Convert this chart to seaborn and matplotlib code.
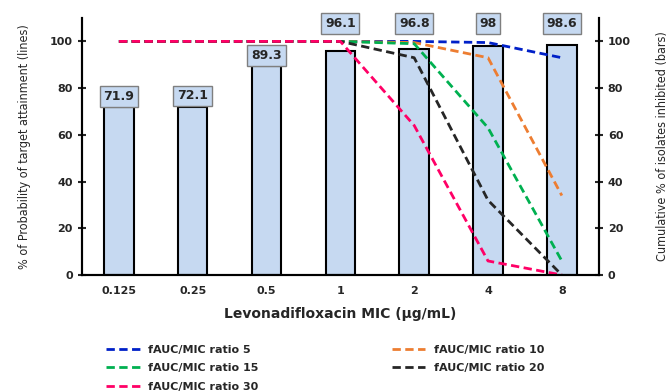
import numpy as np
import pandas as pd
import matplotlib
matplotlib.use("Agg")
import matplotlib.pyplot as plt
import seaborn as sns

# MIC categories and bar values (cumulative % inhibited)
mic = ["0.125", "0.25", "0.5", "1", "2", "4", "8"]
inhibited = [71.9, 72.1, 89.3, 96.1, 96.8, 98, 98.6]

# probability of target attainment per fAUC/MIC ratio
pta_5 = [100, 100, 100, 100, 100, 99.5, 93]
pta_10 = [100, 100, 100, 100, 99.5, 93, 34]
pta_15 = [100, 100, 100, 100, 99, 63, 6]
pta_20 = [100, 100, 100, 100, 93, 32, 0]
pta_30 = [100, 100, 100, 100, 64, 6, 0]

names = ["fAUC/MIC ratio 5", "fAUC/MIC ratio 10", "fAUC/MIC ratio 15",
         "fAUC/MIC ratio 20", "fAUC/MIC ratio 30"]
colors = ["#0020C8", "#ED7D31", "#00B050", "#262626", "#FF0066"]

sns.set_style("white")
plt.rcParams['font.family'] = ['DejaVu Sans']

bars = pd.DataFrame({"mic": mic, "pct": inhibited})
rows = []
for name, vals in zip(names, [pta_5, pta_10, pta_15, pta_20, pta_30]):
    for i, v in enumerate(vals):
        rows.append({"pos": i, "pta": v, "series": name})
lines = pd.DataFrame(rows)

fig, ax = plt.subplots(figsize=(6.72, 3.92), dpi=100)
fig.subplots_adjust(left=0.122, right=0.891, bottom=0.2985, top=0.954)
ax2 = ax.twinx()

# bars on the right axis, drawn below the lines
sns.barplot(data=bars, x="mic", y="pct", order=mic, ax=ax2, width=0.4,
            color="#C6D9F1", edgecolor="black", linewidth=1.5, saturation=1)
for i, v in enumerate(inhibited):
    # labels that would hit the 100% lines are pushed to the top
    ly = v + 4.6 if v + 4.6 < 96 else 107.7
    ax2.annotate(f"{v:g}", (i, ly), ha="center", va="center",
                 fontsize=9, fontweight="bold", annotation_clip=False,
                 bbox=dict(boxstyle="square,pad=0.3", fc="#C6D9F1", ec="#7F7F7F", lw=1))

sns.lineplot(data=lines, x="pos", y="pta", hue="series", style="series",
             palette=dict(zip(names, colors)),
             dashes={n: (3, 1.6) for n in names}, linewidth=2,
             ax=ax, legend=False)

ax.set_zorder(ax2.get_zorder() + 1)
ax.patch.set_visible(False)

for a in (ax, ax2):
    a.set_ylim(0, 110)
    a.set_yticks(range(0, 101, 20))
    a.set_xlim(-0.5, 6.5)
    for s in a.spines.values():
        s.set_linewidth(1.5)
        s.set_color("black")
    a.spines["top"].set_visible(False)
    a.tick_params(axis="y", direction="inout", length=6, width=1.5,
                  labelsize=8)
    for t in a.get_yticklabels():
        t.set_fontweight("bold")

ax.set_xticks(range(len(mic)))
ax.set_xticklabels(mic, fontsize=8, fontweight="bold")
ax.set_xticks(np.arange(len(mic) + 1) - 0.5, minor=True)
ax.tick_params(axis="x", which="major", length=0, pad=8)
ax.tick_params(axis="x", which="minor", direction="out", length=4, width=1.5)
ax2.tick_params(axis="x", which="both", length=0)
ax2.set_xlabel("")

ax.set_xlabel("Levonadifloxacin MIC (µg/mL)", fontsize=10, fontweight="bold",
              labelpad=8)
ax.set_ylabel("% of Probability of target attainment (lines)", fontsize=9,
              family="DejaVu Sans", fontstretch="condensed", labelpad=14)
ax2.set_ylabel("Cumulative % of isolates inhibited (bars)", fontsize=9,
               family="DejaVu Sans", fontstretch="condensed", labelpad=18)

handles = ax.get_lines()[:5]
order = [0, 2, 4, 1, 3]
fig.legend([handles[i] for i in order], [names[i] for i in order],
           loc="upper left", bbox_to_anchor=(0.158, 0.12), ncol=2,
           frameon=False, prop={"size": 8, "weight": "bold"},
           handlelength=3, columnspacing=12, labelspacing=0.75,
           borderpad=0, borderaxespad=0)

fig.savefig("out.png", dpi=100)
